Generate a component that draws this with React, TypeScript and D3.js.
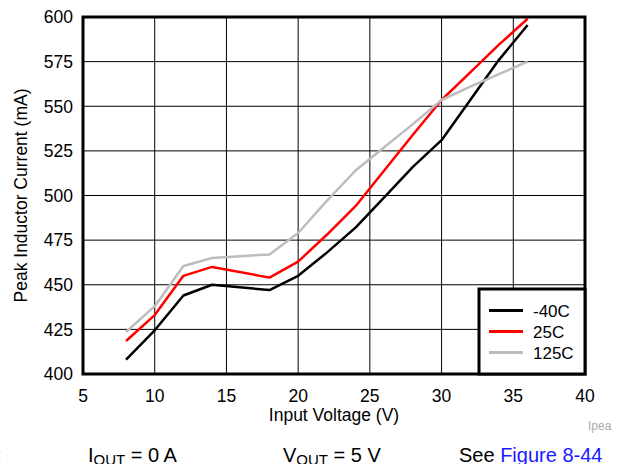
import * as d3 from 'd3';

const volts = [8, 10, 12, 14, 18, 20, 22, 24, 26, 28, 30, 32, 34, 36];
const m40 = [408, 424.5, 444, 450, 447, 455, 468, 482, 499, 516, 531, 553.5, 576, 595.5];
const p25 = [418.5, 433, 455, 460, 454, 463, 478, 494, 514, 534, 553.5, 569, 584.5, 599];
const p125 = [423.5, 438, 460.5, 465, 467, 479, 497, 514, 527, 540, 553.5, 561, 568, 575];

const xTicks = [5, 10, 15, 20, 25, 30, 35, 40];
const yTicks = [400, 425, 450, 475, 500, 525, 550, 575, 600];

const series = [
  { name: '-40C', values: m40, color: '#000000' },
  { name: '25C', values: p25, color: '#ff0000' },
  { name: '125C', values: p125, color: '#bdbdbd' },
];

const W = 621;
const H = 464;
const margin = { left: 83, right: 36, top: 17, bottom: 90 };
const FONT = '"Liberation Sans", Arial, Helvetica, sans-serif';

export default function App() {
  const x = d3.scaleLinear().domain([5, 40]).range([margin.left, W - margin.right]);
  const y = d3.scaleLinear().domain([400, 600]).range([H - margin.bottom, margin.top]);

  const line = d3
    .line<number>()
    .x((_, i) => x(volts[i]))
    .y((d) => y(d));

  const x0 = x(5);
  const x1 = x(40);
  const y0 = y(400);
  const y1 = y(600);

  // legend box sits in the lower right corner of the plot
  const lgX = x1 - 106;
  const lgY = y0 - 85;

  return (
    <svg
      width={W}
      height={H}
      style={{ position: 'absolute', left: 0, top: 0, background: '#fff' }}
      fontFamily={FONT}
    >
      <rect x={0} y={0} width={W} height={H} fill="#fff" />

      {/* grid */}
      {xTicks.slice(1, -1).map((t) => (
        <line key={'gx' + t} x1={x(t)} x2={x(t)} y1={y1} y2={y0} stroke="#000" strokeWidth={1} />
      ))}
      {yTicks.slice(1, -1).map((t) => (
        <line key={'gy' + t} x1={x0} x2={x1} y1={y(t)} y2={y(t)} stroke="#000" strokeWidth={1} />
      ))}

      {/* series */}
      {series.map((s) => (
        <path
          key={s.name}
          d={line(s.values) || ''}
          fill="none"
          stroke={s.color}
          strokeWidth={2.5}
          strokeLinejoin="round"
        />
      ))}

      {/* frame */}
      <rect x={x0} y={y1} width={x1 - x0} height={y0 - y1} fill="none" stroke="#000" strokeWidth={3} />

      {/* tick labels */}
      {yTicks.map((t) => (
        <text key={'ty' + t} x={x0 - 10} y={y(t)} dy="0.36em" textAnchor="end" fontSize={17.5} fill="#000">
          {t}
        </text>
      ))}
      {xTicks.map((t) => (
        <text key={'tx' + t} x={x(t)} y={y0 + 28} textAnchor="middle" fontSize={17.5} fill="#000">
          {t}
        </text>
      ))}

      {/* axis titles */}
      <text x={(x0 + x1) / 2} y={y0 + 47} textAnchor="middle" fontSize={17.5} fill="#000">
        Input Voltage (V)
      </text>
      <text
        transform={`translate(27,${(y0 + y1) / 2}) rotate(-90)`}
        textAnchor="middle"
        fontSize={17.5}
        fill="#000"
      >
        Peak Inductor Current (mA)
      </text>

      {/* legend */}
      <rect x={lgX} y={lgY} width={x1 - lgX} height={y0 - lgY} fill="#fff" stroke="#000" strokeWidth={3} />
      {series.map((s, i) => (
        <g key={'lg' + s.name}>
          <line
            x1={lgX + 10}
            x2={lgX + 44}
            y1={lgY + 21.5 + i * 21}
            y2={lgY + 21.5 + i * 21}
            stroke={s.color}
            strokeWidth={3}
          />
          <text x={lgX + 54} y={lgY + 21.5 + i * 21} dy="0.36em" fontSize={17} fill="#000">
            {s.name}
          </text>
        </g>
      ))}

      <text x={588} y={430} fontSize={12} fill="#aaaaaa">
        Ipea
      </text>

      {/* conditions row */}
      <text x={-4} y={462} fontSize={20} fill="#000">
        :
      </text>
      <text x={88} y={462} fontSize={20} fill="#000">
        I<tspan fontSize={15} dy={3}>OUT</tspan>
        <tspan dy={-3}> = 0 A</tspan>
      </text>
      <text x={283} y={462} fontSize={20} fill="#000">
        V<tspan fontSize={15} dy={3}>OUT</tspan>
        <tspan dy={-3}> = 5 V</tspan>
      </text>
      <text x={459} y={462} fontSize={20} fill="#000">
        See <tspan fill="#1a1aff">Figure 8-44</tspan>
      </text>
    </svg>
  );
}
